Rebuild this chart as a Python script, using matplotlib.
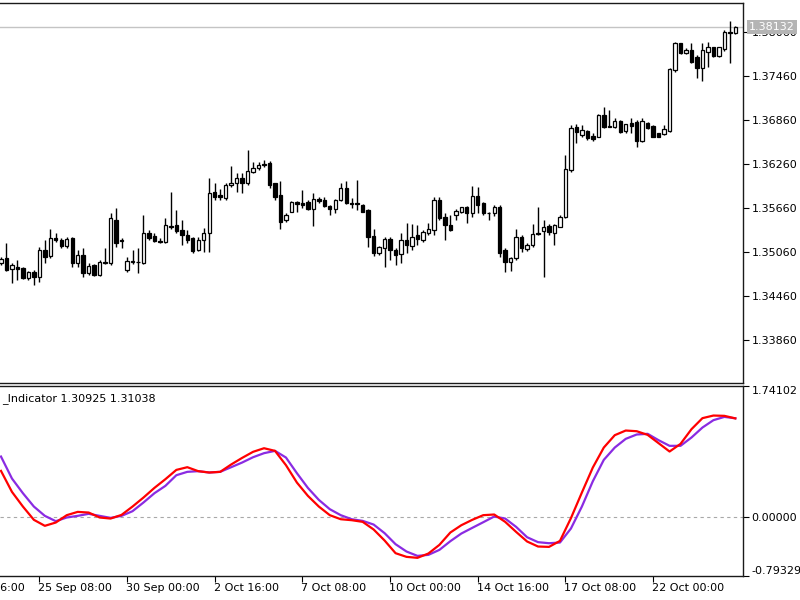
#!/usr/bin/env python3
"""H4 candlestick chart with a two-line oscillator sub-window (MT5 style)."""
import matplotlib

matplotlib.use("Agg")

import matplotlib.pyplot as plt
import matplotlib.transforms as mtransforms
import numpy as np

# candles, one per H4 bar
opens = [
    1.34914, 1.34982, 1.34832, 1.34860, 1.34846, 1.34709, 1.34791, 1.34723, 1.35091, 1.35009,
    1.35248, 1.35227, 1.35145, 1.35254, 1.34914, 1.35023, 1.34777, 1.34887, 1.34750, 1.34914,
    1.34914, 1.35500, 1.35227, 1.34818, 1.34928, 1.34928, 1.34914, 1.35323, 1.35282, 1.35213,
    1.35200, 1.35418, 1.35432, 1.35364, 1.35295, 1.35254, 1.35091, 1.35227, 1.35323, 1.35882,
    1.35841, 1.35800, 1.35978, 1.36005, 1.36073, 1.36005, 1.36155, 1.36209, 1.36264, 1.36278,
    1.36005, 1.35841, 1.35500, 1.35610, 1.35746, 1.35732, 1.35746, 1.35650, 1.35786, 1.35773,
    1.35691, 1.35650, 1.35773, 1.35936, 1.35732, 1.35732, 1.35705, 1.35637, 1.35282, 1.35050,
    1.35118, 1.35241, 1.35091, 1.35036, 1.35227, 1.35145, 1.35295, 1.35227, 1.35323, 1.35364,
    1.35773, 1.35541, 1.35432, 1.35569, 1.35610, 1.35678, 1.35596, 1.35827, 1.35732, 1.35596,
    1.35596, 1.35678, 1.35091, 1.34928, 1.34982, 1.35268, 1.35104, 1.35159, 1.35323, 1.35350,
    1.35418, 1.35323, 1.35405, 1.35541, 1.36182, 1.36769, 1.36659, 1.36714, 1.36646, 1.36632,
    1.36932, 1.36776, 1.36769, 1.36851, 1.36714, 1.36823, 1.36837, 1.36577, 1.36823, 1.36782,
    1.36687, 1.36673, 1.36714, 1.37546, 1.37914, 1.37778, 1.37819, 1.37724, 1.37574, 1.37792,
    1.37860, 1.37737, 1.37833, 1.38058, 1.38051,
]
highs = [
    1.34996, 1.35186, 1.34914, 1.34955, 1.34860, 1.34804, 1.34818, 1.35132, 1.35227, 1.35378,
    1.35323, 1.35254, 1.35268, 1.35268, 1.35091, 1.35118, 1.34914, 1.34900, 1.34955, 1.35118,
    1.35596, 1.35664, 1.35254, 1.34996, 1.35091, 1.35118, 1.35569, 1.35364, 1.35323, 1.35254,
    1.35528, 1.35882, 1.35637, 1.35500, 1.35364, 1.35268, 1.35268, 1.35391, 1.36073, 1.36005,
    1.35923, 1.36005, 1.36237, 1.36141, 1.36141, 1.36455, 1.36292, 1.36292, 1.36319, 1.36305,
    1.36005, 1.36032, 1.35596, 1.35759, 1.35759, 1.35909, 1.35773, 1.35868, 1.35814, 1.35814,
    1.35705, 1.35786, 1.36005, 1.36032, 1.35800, 1.36046, 1.35718, 1.35650, 1.35378, 1.35145,
    1.35268, 1.35268, 1.35118, 1.35323, 1.35459, 1.35446, 1.35432, 1.35364, 1.35459, 1.35814,
    1.35814, 1.35596, 1.35569, 1.35650, 1.35678, 1.35691, 1.35964, 1.35950, 1.35746, 1.35603,
    1.35705, 1.35705, 1.35118, 1.34996, 1.35378, 1.35295, 1.35186, 1.35446, 1.35678, 1.35500,
    1.35446, 1.35446, 1.35569, 1.36387, 1.36796, 1.36810, 1.36796, 1.36728, 1.36687, 1.36946,
    1.37042, 1.37001, 1.36892, 1.36864, 1.36810, 1.36892, 1.36864, 1.36892, 1.36837, 1.36796,
    1.36687, 1.36796, 1.37574, 1.37928, 1.37914, 1.37846, 1.37914, 1.37751, 1.37914, 1.37928,
    1.37860, 1.37860, 1.38092, 1.38215, 1.38146,
]
lows = [
    1.34887, 1.34804, 1.34641, 1.34682, 1.34695, 1.34682, 1.34614, 1.34655, 1.34914, 1.34982,
    1.35200, 1.35118, 1.35118, 1.34860, 1.34860, 1.34723, 1.34750, 1.34736, 1.34736, 1.34900,
    1.34887, 1.35132, 1.35118, 1.34791, 1.34900, 1.34777, 1.34900, 1.35227, 1.35200, 1.35186,
    1.35186, 1.35378, 1.35323, 1.35159, 1.35186, 1.35050, 1.35077, 1.35064, 1.35064, 1.35773,
    1.35773, 1.35773, 1.35950, 1.35882, 1.35868, 1.35978, 1.36141, 1.36182, 1.36223, 1.35936,
    1.35773, 1.35378, 1.35473, 1.35610, 1.35610, 1.35664, 1.35637, 1.35418, 1.35732, 1.35678,
    1.35569, 1.35596, 1.35759, 1.35718, 1.35664, 1.35637, 1.35610, 1.35132, 1.35009, 1.35023,
    1.34860, 1.34955, 1.34887, 1.34914, 1.35050, 1.35091, 1.35159, 1.35200, 1.35295, 1.35295,
    1.35500, 1.35227, 1.35350, 1.35500, 1.35596, 1.35459, 1.35541, 1.35596, 1.35569, 1.35500,
    1.35555, 1.34996, 1.34791, 1.34804, 1.34955, 1.35064, 1.35077, 1.35132, 1.35295, 1.34723,
    1.35295, 1.35159, 1.35405, 1.35528, 1.36155, 1.36550, 1.36632, 1.36591, 1.36577, 1.36632,
    1.36755, 1.36762, 1.36755, 1.36687, 1.36687, 1.36687, 1.36496, 1.36564, 1.36741, 1.36632,
    1.36632, 1.36659, 1.36700, 1.37519, 1.37764, 1.37764, 1.37642, 1.37437, 1.37396, 1.37587,
    1.37724, 1.37724, 1.37805, 1.37642, 1.38037,
]
closes = [
    1.34968, 1.34818, 1.34887, 1.34832, 1.34709, 1.34791, 1.34723, 1.35091, 1.34996, 1.35254,
    1.35227, 1.35145, 1.35241, 1.34914, 1.35023, 1.34777, 1.34873, 1.34750, 1.34928, 1.34928,
    1.35528, 1.35186, 1.35213, 1.34941, 1.34935, 1.34921, 1.35323, 1.35254, 1.35213, 1.35200,
    1.35432, 1.35405, 1.35350, 1.35295, 1.35227, 1.35077, 1.35227, 1.35323, 1.35868, 1.35814,
    1.35814, 1.35978, 1.36005, 1.36073, 1.36005, 1.36168, 1.36209, 1.36250, 1.36250, 1.35978,
    1.35814, 1.35473, 1.35569, 1.35746, 1.35718, 1.35705, 1.35650, 1.35786, 1.35759, 1.35691,
    1.35650, 1.35773, 1.35936, 1.35732, 1.35725, 1.35718, 1.35610, 1.35268, 1.35050, 1.35132,
    1.35241, 1.35091, 1.35023, 1.35227, 1.35159, 1.35268, 1.35241, 1.35337, 1.35378, 1.35773,
    1.35528, 1.35432, 1.35364, 1.35623, 1.35678, 1.35596, 1.35827, 1.35705, 1.35596, 1.35596,
    1.35678, 1.35050, 1.34928, 1.34982, 1.35268, 1.35118, 1.35159, 1.35309, 1.35316, 1.35405,
    1.35337, 1.35432, 1.35541, 1.36196, 1.36755, 1.36700, 1.36728, 1.36618, 1.36604, 1.36932,
    1.36769, 1.36769, 1.36851, 1.36700, 1.36810, 1.36782, 1.36577, 1.36851, 1.36755, 1.36632,
    1.36632, 1.36741, 1.37560, 1.37914, 1.37778, 1.37819, 1.37655, 1.37574, 1.37819, 1.37860,
    1.37737, 1.37860, 1.38065, 1.38051, 1.38132,
]

# oscillator, sampled every second bar
ind_bars = list(range(0, 135, 2))
ind_red = [
    0.609, 0.329, 0.133, -0.044, -0.124, -0.080, 0.018, 0.062, 0.053, -0.013,
    -0.027, 0.022, 0.133, 0.253, 0.382, 0.498, 0.622, 0.658, 0.605, 0.587,
    0.596, 0.694, 0.782, 0.863, 0.911, 0.876, 0.685, 0.453, 0.276, 0.133,
    0.018, -0.036, -0.049, -0.071, -0.173, -0.320, -0.489, -0.538, -0.551, -0.493,
    -0.378, -0.213, -0.116, -0.044, 0.018, 0.027, -0.071, -0.205, -0.333, -0.400,
    -0.405, -0.325, -0.022, 0.320, 0.654, 0.920, 1.085, 1.147, 1.138, 1.089,
    0.978, 0.867, 0.969, 1.165, 1.312, 1.347, 1.343, 1.309,
]
ind_purple = [
    0.800, 0.507, 0.311, 0.133, 0.009, -0.062, -0.013, 0.009, 0.036, 0.009,
    -0.018, 0.009, 0.071, 0.187, 0.311, 0.409, 0.551, 0.596, 0.605, 0.587,
    0.596, 0.658, 0.720, 0.791, 0.845, 0.876, 0.787, 0.578, 0.382, 0.222,
    0.098, 0.018, -0.036, -0.058, -0.107, -0.222, -0.369, -0.467, -0.525, -0.511,
    -0.445, -0.329, -0.227, -0.151, -0.076, 0.000, -0.027, -0.138, -0.276, -0.342,
    -0.356, -0.347, -0.160, 0.133, 0.471, 0.756, 0.920, 1.036, 1.094, 1.103,
    1.018, 0.943, 0.943, 1.054, 1.187, 1.285, 1.329, 1.310,
]

price_ticks = [1.33860, 1.34460, 1.35060, 1.35660, 1.36260, 1.36860, 1.37460, 1.38060]
last_price = 1.38132
ind_ticks = [-0.79329, 0.0, 1.74102]
ind_title = "_Indicator 1.30925 1.31038"
date_bars = [-9, 7, 23, 39, 55, 71, 87, 103, 119]
date_labels = ["20 Sep 16:00", "25 Sep 08:00", "30 Sep 00:00", "2 Oct 16:00",
               "7 Oct 08:00", "10 Oct 00:00", "14 Oct 16:00", "17 Oct 08:00",
               "22 Oct 00:00"]

W, H = 800, 600
XLIM = (-0.18, 135.4)
FS = 8


def style_axes(ax):
    ax.set_facecolor("white")
    ax.spines["left"].set_visible(False)
    for side in ("top", "right", "bottom"):
        ax.spines[side].set_linewidth(1.0)
        ax.spines[side].set_color("#1a1a1a")
    ax.set_xlim(XLIM)
    ax.yaxis.tick_right()
    ax.tick_params(axis="y", direction="out", length=4, width=0.8,
                   labelsize=FS, pad=2, colors="black")


def main():
    fig = plt.figure(figsize=(W / 100, H / 100), dpi=100)
    fig.patch.set_facecolor("white")
    ax = fig.add_axes([0, 217 / H, 743 / W, 380 / H])
    ax2 = fig.add_axes([0, 24 / H, 743 / W, 190 / H])

    # --- price window
    style_axes(ax)
    o = np.array(opens)
    h = np.array(highs)
    l = np.array(lows)
    c = np.array(closes)
    idx = np.arange(len(o))
    up = c >= o
    ax.axhline(last_price, color="#c4c4c4", lw=1.0, zorder=1)
    ax.vlines(idx, l, h, color="black", lw=1.0, zorder=2)
    ax.bar(idx, np.abs(c - o), bottom=np.minimum(o, c), width=0.62,
           color=np.where(up, "white", "black"), edgecolor="black",
           linewidth=0.9, zorder=3)
    ax.set_ylim(1.33277, 1.38460)
    ax.set_yticks(price_ticks)
    ax.set_yticklabels([f"{v:.5f}" for v in price_ticks])
    ax.set_xticks([])

    blend = mtransforms.blended_transform_factory(ax.transAxes, ax.transData)
    ax.text(749 / 743, last_price, f"{last_price:.5f}", transform=blend,
            ha="left", va="center", fontsize=FS, color="white", zorder=10,
            clip_on=False,
            bbox=dict(facecolor="#b4b4b4", edgecolor="none", pad=1.6))

    # --- indicator window
    style_axes(ax2)
    ax2.axhline(0.0, color="#a8a8a8", lw=0.8, ls=(0, (3, 3)), zorder=1)
    ax2.plot(ind_bars, ind_red, color="#ff0000", lw=1.6, zorder=3)
    ax2.plot(ind_bars, ind_purple, color="#8a2be2", lw=1.6, zorder=2)
    ax2.set_ylim(ind_ticks[0], ind_ticks[-1])
    ax2.set_yticks(ind_ticks)
    ax2.set_yticklabels([f"{v:.5f}" for v in ind_ticks])
    labels = ax2.get_yticklabels()
    labels[0].set_verticalalignment("bottom")
    labels[-1].set_verticalalignment("top")
    ax2.text(0.003, 0.965, ind_title, transform=ax2.transAxes, ha="left",
             va="top", fontsize=FS, color="black")

    ax2.set_xticks(date_bars[1:])
    ax2.set_xticklabels([])
    ax2.tick_params(axis="x", direction="out", length=4, width=0.8)
    xblend = mtransforms.blended_transform_factory(ax2.transData, ax2.transAxes)
    for b, lab in zip(date_bars, date_labels):
        ax2.text(b - 0.2, -0.065, lab, transform=xblend, ha="left", va="center",
                 fontsize=FS, color="black", clip_on=False)

    fig.savefig("out.png", dpi=100, facecolor="white")
    plt.close(fig)


if __name__ == "__main__":
    main()
